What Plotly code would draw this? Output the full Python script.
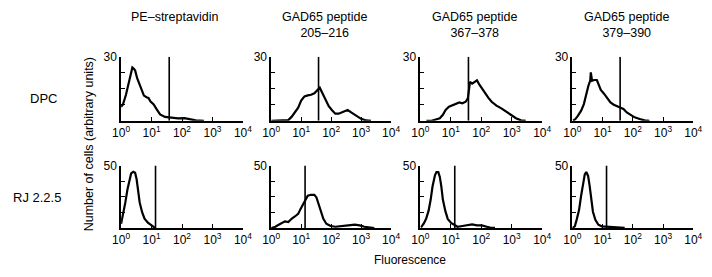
import plotly.graph_objects as go

# ---------------- data (log10 fluorescence, cell counts) ----------------
col_titles = ["PE–streptavidin", "GAD65 peptide<br>205–216", "GAD65 peptide<br>367–378", "GAD65 peptide<br>379–390"]
row_labels = ["DPC", "RJ 2.2.5"]
x_tick_vals = [1, 10, 100, 1000, 10000]
x_tick_text = ["10<sup>0</sup>", "10<sup>1</sup>", "10<sup>2</sup>", "10<sup>3</sup>", "10<sup>4</sup>"]
top_ymax = 30
bottom_ymax = 50
top_gate = 38      # fluorescence of marker line, DPC row
bottom_gate = 13.5 # fluorescence of marker line, RJ 2.2.5 row

dpc_pe_log = [0, 0.06, 0.16, 0.245, 0.32, 0.37, 0.395, 0.46, 0.53, 0.64, 0.75, 0.85, 0.9, 0.96, 1.07, 1.17, 1.28, 1.44, 1.54, 1.65, 1.87, 2.08, 2.29, 2.45, 2.72]
dpc_pe_cnt = [6.5, 7.6, 12.2, 17.5, 22, 25, 24.7, 23.6, 19.8, 16, 11.8, 10.9, 10.7, 9.1, 7.6, 5.3, 3, 1.8, 1.6, 1.4, 1.1, 1.2, 0.6, 0.15, 0]

dpc_205_log = [0, 0.2, 0.45, 0.57, 0.68, 0.79, 0.9, 1.0, 1.11, 1.22, 1.33, 1.44, 1.55, 1.62, 1.71, 1.82, 1.92, 2.03, 2.14, 2.25, 2.36, 2.46, 2.55, 2.68, 2.84, 3.0, 3.17, 3.33]
dpc_205_cnt = [0, 0, 0, 0.3, 1.8, 3.8, 6.1, 9.4, 11.4, 11.9, 12.2, 12.9, 14.5, 15.5, 12.9, 9.9, 6.8, 4.9, 3.3, 3.3, 3.8, 4.6, 5.0, 3.8, 2.3, 0.9, 0.15, 0]

dpc_367_log = [0.2, 0.37, 0.48, 0.64, 0.74, 0.83, 0.94, 1.06, 1.17, 1.28, 1.38, 1.49, 1.56, 1.63, 1.70, 1.79, 1.86, 1.94, 2.02, 2.13, 2.23, 2.34, 2.5, 2.66, 2.82, 2.98, 3.14, 3.30, 3.46]
dpc_367_cnt = [0, 0, 0.5, 1.2, 2.8, 5.1, 6.6, 7.4, 8.0, 8.6, 8.2, 8.9, 10.5, 18.2, 17.4, 18.5, 18.9, 16.9, 15.1, 12.8, 10.8, 8.9, 7.1, 5.8, 4.3, 2.8, 1.2, 0.2, 0]

dpc_379_log = [0.02, 0.1, 0.18, 0.29, 0.38, 0.45, 0.53, 0.59, 0.61, 0.65, 0.72, 0.81, 0.86, 0.94, 1.04, 1.15, 1.26, 1.37, 1.47, 1.58, 1.69, 1.80, 1.92, 2.06, 2.23, 2.39, 2.55]
dpc_379_cnt = [0, 0.8, 2.3, 4.7, 7.8, 12.5, 16.4, 18.75, 22.7, 18.75, 19.1, 19.1, 17.2, 14.4, 12.8, 10.9, 8.6, 7.5, 6.9, 6.25, 5.5, 3.9, 2.7, 1.6, 0.8, 0.15, 0]

rj_pe_log = [0, 0.06, 0.14, 0.21, 0.28, 0.33, 0.4, 0.46, 0.51, 0.56, 0.61, 0.69, 0.77, 0.88, 0.98, 1.09, 1.14]
rj_pe_cnt = [3.4, 10, 20.5, 31, 39, 43.7, 45, 44.2, 39, 31, 20.5, 12.6, 7.4, 4.2, 2.1, 0.5, 0]

rj_205_log = [0, 0.14, 0.25, 0.36, 0.46, 0.57, 0.68, 0.79, 0.9, 0.98, 1.06, 1.15, 1.22, 1.33, 1.44, 1.51, 1.58, 1.65, 1.74, 1.84, 1.98, 2.14, 2.36, 2.57, 2.79, 2.95, 3.11, 3.28, 3.44]
rj_205_cnt = [0, 1, 2.6, 4.2, 5.3, 4.7, 7.4, 9.2, 11.3, 15.3, 19.2, 23.2, 25.8, 26.6, 26.6, 24.5, 19.2, 12.6, 7.4, 3.4, 1.6, 1.0, 1.3, 2.1, 2.6, 2.1, 1.0, 0.3, 0]

rj_367_log = [0.02, 0.11, 0.19, 0.27, 0.34, 0.4, 0.48, 0.53, 0.59, 0.64, 0.69, 0.74, 0.82, 0.9, 1.01, 1.12, 1.22, 1.38, 1.6, 1.7, 1.86, 2.02, 2.18, 2.29, 2.45]
rj_367_cnt = [0.5, 3.4, 7.3, 13.7, 22.8, 33.2, 42.2, 44.8, 44.8, 40.9, 33.2, 22.8, 13.7, 7.3, 4.1, 2.6, 1.0, 1.6, 2.1, 2.8, 2.1, 2.1, 1.0, 0.3, 0]

rj_379_log = [0, 0.08, 0.14, 0.22, 0.29, 0.36, 0.41, 0.46, 0.52, 0.57, 0.63, 0.68, 0.76, 0.86, 0.97, 1.14, 1.35, 1.57, 1.73]
rj_379_cnt = [0, 1.3, 6.5, 14.3, 26, 36.5, 43, 44.8, 41.7, 33.9, 23.4, 13, 6.5, 2.6, 1.3, 1.0, 1.0, 0.5, 0]

panels = [
    (dpc_pe_log, dpc_pe_cnt), (dpc_205_log, dpc_205_cnt), (dpc_367_log, dpc_367_cnt), (dpc_379_log, dpc_379_cnt),
    (rj_pe_log, rj_pe_cnt), (rj_205_log, rj_205_cnt), (rj_367_log, rj_367_cnt), (rj_379_log, rj_379_cnt),
]

# ---------------- layout geometry ----------------
W, H = 712, 277
col_px = [(115, 240), (269, 392), (422, 547), (578, 702)]
row_px = [(51, 116.7), (162.7, 226.7)]  # (top, bottom) in pixels

def px_x(p):
    return p / W

def px_y(p):
    return 1 - p / H

fig = go.Figure()
layout = dict(
    width=W, height=H, margin=dict(l=0, r=0, t=0, b=0),
    paper_bgcolor="white", plot_bgcolor="white", showlegend=False,
    font=dict(family="Liberation Sans, Arial, sans-serif", color="black", size=12),
)

for i, (lx, cnt) in enumerate(panels):
    r, c = divmod(i, 4)
    n = i + 1
    xa = "x" if n == 1 else f"x{n}"
    ya = "y" if n == 1 else f"y{n}"
    ymax = top_ymax if r == 0 else bottom_ymax
    gate = top_gate if r == 0 else bottom_gate
    fig.add_trace(go.Scatter(x=[10 ** v for v in lx], y=cnt, mode="lines",
                             line=dict(color="black", width=2.2), xaxis=xa, yaxis=ya,
                             hoverinfo="skip"))
    fig.add_trace(go.Scatter(x=[gate, gate], y=[0, ymax], mode="lines",
                             line=dict(color="black", width=1.6), xaxis=xa, yaxis=ya,
                             hoverinfo="skip"))
    x0, x1 = col_px[c]
    t, b = row_px[r]
    layout["xaxis" if n == 1 else f"xaxis{n}"] = dict(
        type="log", range=[0, 4], domain=[px_x(x0), px_x(x1)], anchor=ya,
        showline=True, linecolor="black", linewidth=1.5, showgrid=False, zeroline=False,
        ticks="inside", ticklen=4, tickwidth=1, tickcolor="black",
        tickvals=x_tick_vals, ticktext=x_tick_text, tickfont=dict(size=12),
        fixedrange=True,
    )
    layout["yaxis" if n == 1 else f"yaxis{n}"] = dict(
        range=[0, ymax], domain=[px_y(b), px_y(t)], anchor=xa,
        showline=True, linecolor="black", linewidth=1.5, showgrid=False, zeroline=False,
        ticks="inside", ticklen=4, tickwidth=1, tickcolor="black",
        tickvals=[ymax * k / 4 for k in range(5)],
        ticktext=["", "", "", "", str(ymax)], tickfont=dict(size=12),
        fixedrange=True,
    )

annotations = []
title_cx = [170, 324, 478, 634]
for c in range(4):
    annotations.append(dict(text=col_titles[c], x=px_x(title_cx[c]), y=px_y(2), xref="paper", yref="paper",
                            showarrow=False, xanchor="center", yanchor="top", borderpad=0,
                            font=dict(size=12.5)))
annotations.append(dict(text=row_labels[0], x=px_x(35), y=px_y(94), xref="paper", yref="paper",
                        showarrow=False, xanchor="center", yanchor="middle", font=dict(size=13)))
annotations.append(dict(text=row_labels[1], x=px_x(2), y=px_y(195), xref="paper", yref="paper",
                        showarrow=False, xanchor="left", yanchor="middle", font=dict(size=13)))
annotations.append(dict(text="Number of cells (arbitrary units)", x=px_x(83), y=px_y(141), xref="paper", yref="paper",
                        showarrow=False, xanchor="center", yanchor="middle", textangle=-90, font=dict(size=12.5)))
annotations.append(dict(text="Fluorescence", x=px_x(411), y=px_y(260), xref="paper", yref="paper",
                        showarrow=False, xanchor="center", yanchor="middle", font=dict(size=12)))
layout["annotations"] = annotations

fig.update_layout(**layout)
fig.write_html("out.html", config={"displayModeBar": False},
               post_script="document.body.style.margin='0px';document.body.style.overflow='hidden';")
